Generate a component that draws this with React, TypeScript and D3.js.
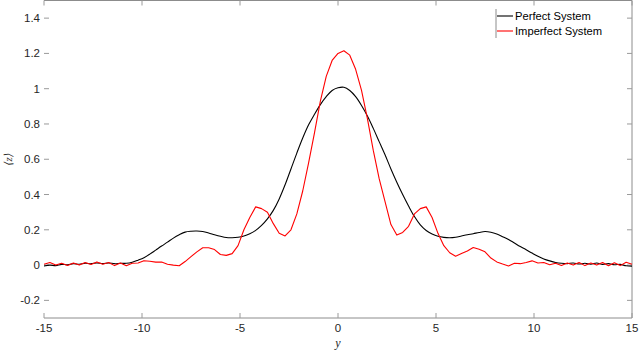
import * as d3 from "d3";

const width = 640;
const height = 352;
const margin = { top: 1, right: 8, bottom: 34, left: 44 };

// y positions: -15 .. 15 in steps of 0.3
const yPos = d3.range(101).map((i) => -15 + i * 0.3);

const perfect = [
  -0.005, 0.0, -0.003, 0.004, 0.002, 0.008, 0.005, 0.01, 0.008, 0.012,
  0.008, 0.012, 0.008, 0.01, 0.01, 0.016, 0.028, 0.042, 0.062, 0.085,
  0.108, 0.13, 0.153, 0.172, 0.187, 0.192, 0.193, 0.19, 0.182, 0.172,
  0.163, 0.156, 0.155, 0.158, 0.165, 0.178, 0.197, 0.225, 0.262, 0.31,
  0.375, 0.455, 0.545, 0.635, 0.72, 0.795, 0.855, 0.91, 0.955, 0.99,
  1.005, 1.008, 0.99, 0.955, 0.905, 0.845, 0.775, 0.7, 0.625, 0.545,
  0.47, 0.4, 0.335, 0.275, 0.228, 0.196, 0.176, 0.163, 0.157, 0.155,
  0.158, 0.165, 0.172, 0.178, 0.185, 0.19, 0.186, 0.176, 0.161, 0.145,
  0.125, 0.105, 0.087, 0.068, 0.05, 0.035, 0.024, 0.015, 0.01, 0.008,
  0.012, 0.006, 0.01, 0.005, 0.012, 0.004, 0.008, 0.002, 0.004, -0.004,
  -0.006,
];

const imperfect = [
  0.005, 0.015, 0.0, 0.01, -0.002, 0.012, 0.0, 0.015, 0.003, 0.018,
  0.005, 0.015, -0.003, 0.012, -0.004, 0.01, 0.012, 0.025, 0.022, 0.017,
  0.017, 0.005, 0.0, -0.004, 0.02, 0.048, 0.075, 0.098, 0.098, 0.088,
  0.06, 0.055, 0.065, 0.11, 0.2, 0.27, 0.33, 0.32, 0.3, 0.235,
  0.18, 0.165, 0.2, 0.29, 0.42, 0.58, 0.75, 0.93, 1.07, 1.16,
  1.2, 1.215, 1.19, 1.11, 0.99, 0.83, 0.65, 0.49, 0.36, 0.23,
  0.17, 0.185, 0.22, 0.29, 0.32, 0.33, 0.27, 0.18, 0.11, 0.07,
  0.05, 0.065, 0.08, 0.1, 0.09, 0.075, 0.04, 0.018, 0.006, -0.005,
  0.01, 0.008, 0.015, 0.024, 0.012, 0.015, 0.002, 0.01, -0.002, 0.012,
  0.0, 0.015, -0.003, 0.012, 0.0, 0.015, -0.004, 0.013, -0.003, 0.016,
  0.005,
];

const xTicks = [-15, -10, -5, 0, 5, 10, 15];
const yTicks = [-0.2, 0, 0.2, 0.4, 0.6, 0.8, 1, 1.2, 1.4];
const seriesNames = ["Perfect System", "Imperfect System"];
const seriesColors = ["#000000", "#ff0000"];

const font = "'Liberation Sans', Arial, Helvetica, sans-serif";
const serif = "'Liberation Serif', 'DejaVu Serif', serif";

export default function App() {
  const x = d3.scaleLinear().domain([-15, 15]).range([margin.left, width - margin.right]);
  const y = d3.scaleLinear().domain([-0.3, 1.5]).range([height - margin.bottom, margin.top - 0.5]);
  const left = margin.left;
  const right = width - margin.right;
  const top = margin.top - 0.5;
  const bottom = height - margin.bottom;

  // perfect curve is smooth, imperfect one is drawn sample to sample
  const smoothLine = d3
    .line<number>()
    .x((_, i) => x(yPos[i]))
    .y((d) => y(d))
    .curve(d3.curveCatmullRom);
  const rawLine = d3
    .line<number>()
    .x((_, i) => x(yPos[i]))
    .y((d) => y(d));

  const paths = [smoothLine(perfect), rawLine(imperfect)];
  const tickColor = "#9a9a9a";
  const fmt = (v: number) => String(Math.round(v * 10) / 10);

  return (
    <svg
      width={width}
      height={height}
      style={{ position: "fixed", left: 0, top: 0, background: "#fff" }}
    >
      <rect width={width} height={height} fill="#fff" />

      {/* box: top, bottom and right edges */}
      <line x1={left} x2={right} y1={top} y2={top} stroke="#8c8c8c" />
      <line x1={left} x2={right} y1={bottom} y2={bottom} stroke="#8c8c8c" />
      <line x1={right} x2={right} y1={top} y2={bottom} stroke="#8c8c8c" />

      {yTicks.map((t) => (
        <g key={"y" + t}>
          <line x1={left} x2={left + 5} y1={y(t)} y2={y(t)} stroke={tickColor} />
          <line x1={right - 5} x2={right} y1={y(t)} y2={y(t)} stroke={tickColor} />
          <text
            x={left - 4}
            y={y(t)}
            dy="0.35em"
            textAnchor="end"
            fontFamily={font}
            fontSize={11.5}
            fill="#262626"
          >
            {fmt(t)}
          </text>
        </g>
      ))}

      {xTicks.map((t) => (
        <g key={"x" + t}>
          <line x1={x(t)} x2={x(t)} y1={bottom} y2={bottom - 5} stroke={tickColor} />
          <line x1={x(t)} x2={x(t)} y1={top} y2={top + 5} stroke={tickColor} />
          <text
            x={x(t)}
            y={bottom + 13.5}
            textAnchor="middle"
            fontFamily={font}
            fontSize={11.5}
            fill="#262626"
          >
            {t}
          </text>
        </g>
      ))}

      {paths.map((d, i) => (
        <path
          key={seriesNames[i]}
          d={d ?? ""}
          fill="none"
          stroke={seriesColors[i]}
          strokeWidth={1.1}
          strokeLinejoin="round"
        />
      ))}

      {/* legend */}
      <line x1={496} x2={496} y1={9} y2={38} stroke="#8c8c8c" />
      {seriesNames.map((name, i) => (
        <g key={name} transform={`translate(497, ${16 + i * 15})`}>
          <line x1={0} x2={16} y1={0} y2={0} stroke={seriesColors[i]} strokeWidth={1.1} />
          <text x={18} y={0} dy="0.35em" fontFamily={font} fontSize={11.2} fill="#000">
            {name}
          </text>
        </g>
      ))}

      {/* axis labels */}
      <text
        x={x(0)}
        y={bottom + 29}
        textAnchor="middle"
        fontFamily={serif}
        fontStyle="italic"
        fontSize={12}
        fill="#262626"
      >
        y
      </text>
      <text
        transform={`translate(12, ${y(0.6)}) rotate(-90)`}
        textAnchor="middle"
        fontFamily={serif}
        fontStyle="italic"
        fontSize={11}
        fill="#262626"
      >
        ⟨z⟩
      </text>
    </svg>
  );
}
